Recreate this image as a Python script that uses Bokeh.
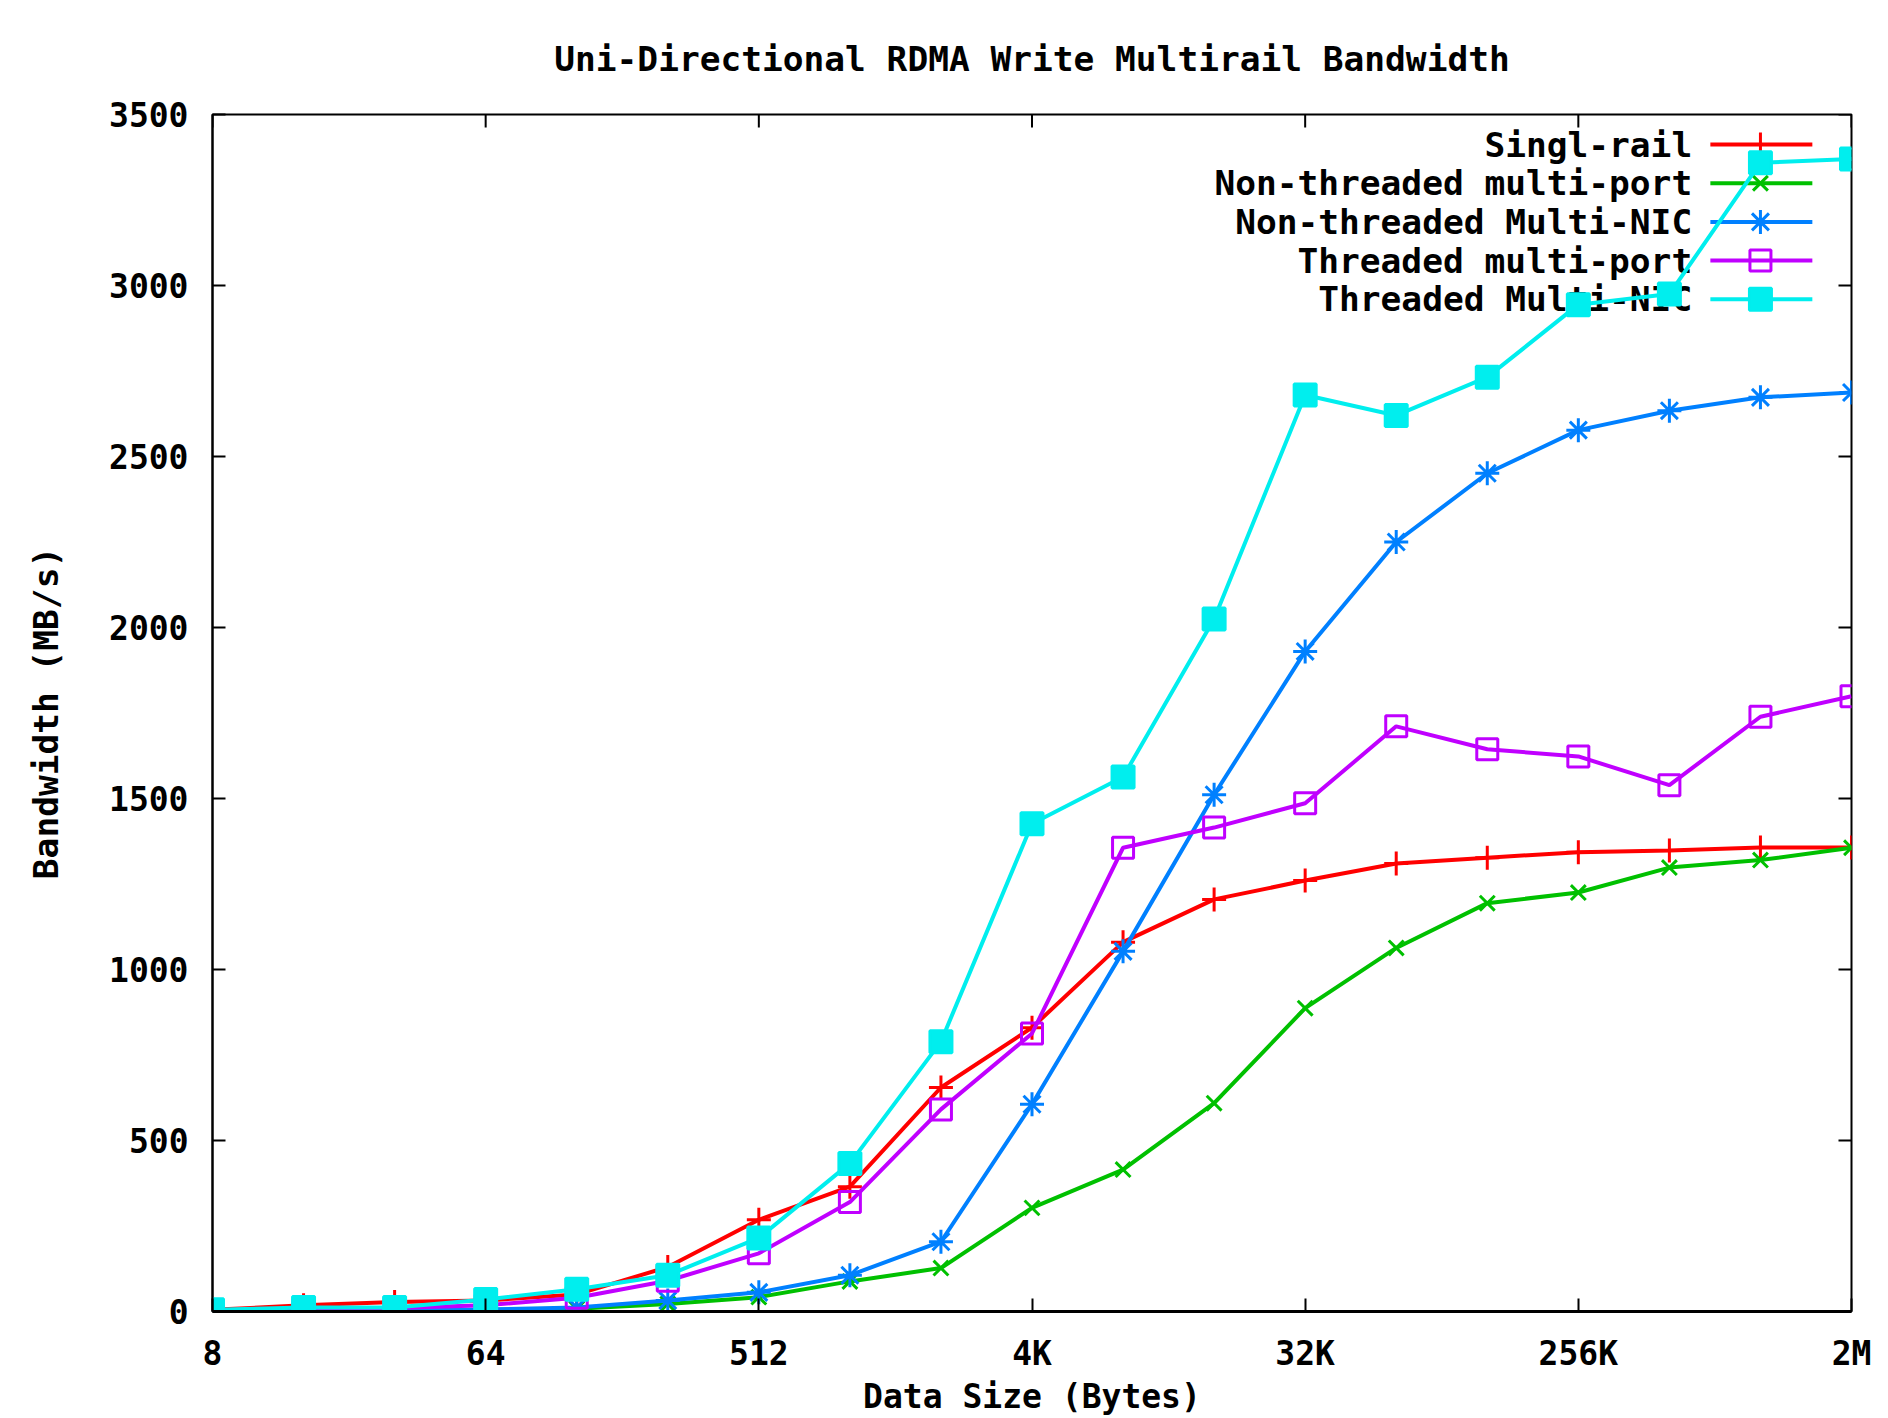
import math
from bokeh.plotting import figure
from bokeh.models import FixedTicker, Label, Range1d
from bokeh.embed import file_html
from bokeh.resources import INLINE

# ---- data ----
sizes = [8, 16, 32, 64, 128, 256, 512, 1024, 2048, 4096, 8192, 16384, 32768,
         65536, 131072, 262144, 524288, 1048576, 2097152]

single_rail = [5, 18, 28, 32, 50, 130, 268, 365, 655, 830, 1080, 1205, 1260,
               1310, 1327, 1343, 1348, 1357, 1357]
nt_multi_port = [1, 2, 3, 5, 8, 22, 42, 88, 127, 303, 415, 609, 887,
                 1063, 1194, 1225, 1298, 1320, 1356]
nt_multi_nic = [1, 2, 3, 6, 12, 32, 56, 106, 204, 606, 1053, 1511, 1930,
                2250, 2451, 2577, 2634, 2673, 2687]
t_multi_port = [3, 6, 10, 18, 40, 90, 170, 320, 591, 813, 1356, 1415, 1486,
                1711, 1644, 1623, 1539, 1739, 1799]
t_multi_nic = [5, 12, 12, 35, 65, 106, 215, 433, 789, 1426, 1563, 2025, 2680,
               2620, 2732, 2944, 2975, 3359, 3370]

series_names = ["Singl-rail", "Non-threaded multi-port", "Non-threaded Multi-NIC",
                "Threaded multi-port", "Threaded Multi-NIC"]

x_tick_values = [8, 64, 512, 4096, 32768, 262144, 2097152]
x_tick_labels = ["8", "64", "512", "4K", "32K", "256K", "2M"]
y_tick_values = [0, 500, 1000, 1500, 2000, 2500, 3000, 3500]
y_max = 3500

FONT = "DejaVu Sans Mono"
FS = "33px"
FS_BIG = "34.5px"

p = figure(width=1880, height=1418, x_axis_type="log",
           x_range=Range1d(sizes[0], sizes[-1]), y_range=Range1d(0, y_max),
           output_backend="svg", toolbar_location=None,
           min_border_left=212, min_border_right=29, min_border_top=114,
           min_border_bottom=107, background_fill_color="white",
           border_fill_color="white")

p.title.text = "Uni-Directional RDMA Write Multirail Bandwidth"
p.title.align = "center"
p.title.text_font = FONT
p.title.text_font_size = FS_BIG
p.title.text_font_style = "bold"
p.title.text_color = "black"
p.title.standoff = 72

p.grid.visible = False
p.outline_line_color = "black"
p.outline_line_width = 2

xa = p.xaxis[0]
xa.ticker = FixedTicker(ticks=x_tick_values)
xa.major_label_overrides = {v: l for v, l in zip(x_tick_values, x_tick_labels)}
xa.axis_label = "Data Size (Bytes)"
ya = p.yaxis[0]
ya.ticker = FixedTicker(ticks=y_tick_values)
ya.axis_label = "Bandwidth (MB/s)"

for ax in (xa, ya):
    ax.major_tick_in = 13
    ax.major_tick_out = 0
    ax.major_tick_line_width = 2
    ax.major_tick_line_color = "black"
    ax.minor_tick_line_color = None
    ax.axis_line_color = "black"
    ax.axis_line_width = 2
    ax.major_label_text_font = FONT
    ax.major_label_text_font_size = FS
    ax.major_label_text_font_style = "bold"
    ax.major_label_text_color = "black"
    ax.axis_label_text_font = FONT
    ax.axis_label_text_font_style = "bold"
    ax.axis_label_text_color = "black"
xa.axis_label_text_font_size = FS
ya.axis_label_text_font_size = FS_BIG
xa.axis_line_width = 3
xa.major_label_standoff = 22
xa.axis_label_standoff = 1
ya.major_label_standoff = 24
ya.axis_label_standoff = 40

# mirrored ticks on top and right edges (short rays of fixed screen length)
p.ray(x=x_tick_values, y=[y_max] * len(x_tick_values), length=13,
      length_units="screen", angle=-math.pi / 2, line_color="black", line_width=2)
p.ray(x=[sizes[-1]] * len(y_tick_values), y=y_tick_values, length=13,
      length_units="screen", angle=math.pi, line_color="black", line_width=2)

colors = ["#ff0000", "#00c000", "#0080ff", "#c000ff", "#00eeee"]
markers = ["cross", "x", "asterisk", "square", "square"]
marker_sizes = [24, 21, 24, 21, 22]
fills = [None, None, None, None, "#00eeee"]
all_values = [single_rail, nt_multi_port, nt_multi_nic, t_multi_port, t_multi_nic]

# gnuplot-style key in the top-right corner: right-aligned text, sample to its right
key_text_x = sizes[-1] / 2 ** 1.75
key_x0 = sizes[-1] / 2 ** 1.55
key_x1 = sizes[-1] / 2 ** 0.43
key_xm = sizes[-1] / 2 ** 1.0
key_rows = [y_max - 88 - 113 * i for i in range(len(series_names))]

for name, vals, c, m, ms, f, ky in zip(series_names, all_values, colors, markers,
                                      marker_sizes, fills, key_rows):
    p.add_layout(Label(x=key_text_x, y=ky, text=name, text_align="right",
                       text_baseline="middle", text_font=FONT, text_font_size=FS_BIG,
                       text_font_style="bold", text_color="black", level="underlay"))
    p.line([key_x0, key_x1], [ky, ky], line_color=c, line_width=4)
    p.scatter([key_xm], [ky], marker=m, size=ms, line_color=c, line_width=3, fill_color=f)
    p.line(sizes, vals, line_color=c, line_width=4)
    p.scatter(sizes, vals, marker=m, size=ms, line_color=c, line_width=3, fill_color=f)

open("out.html", "w").write(file_html(p, INLINE))
